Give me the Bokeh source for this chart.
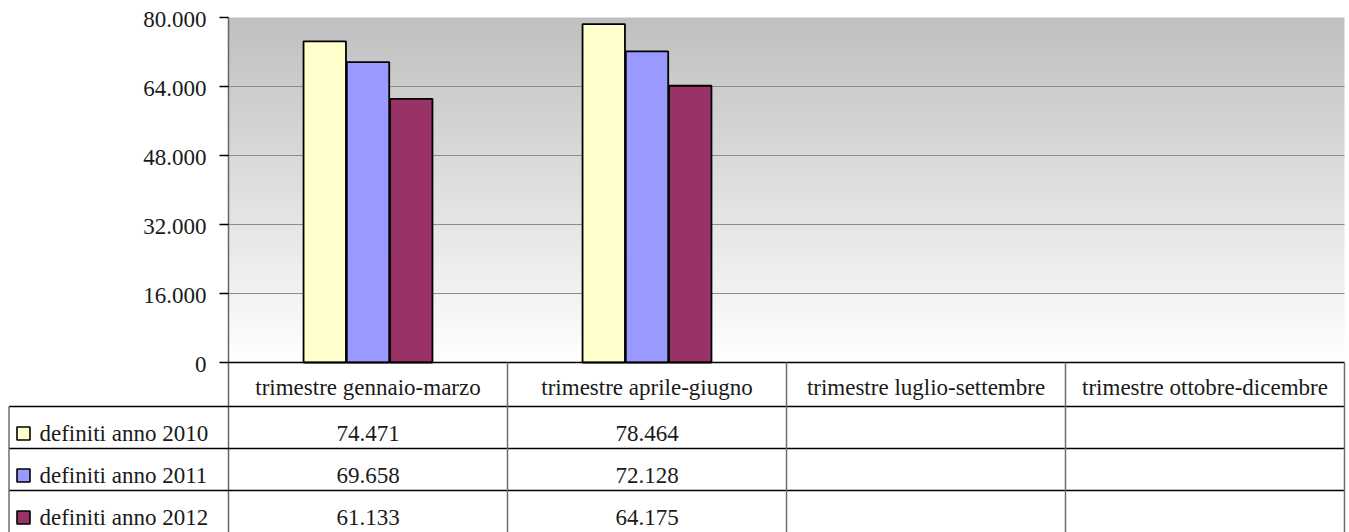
import numpy as np
from bokeh.plotting import figure
from bokeh.models import Range1d
from bokeh.core.properties import value
from bokeh.embed import file_html
from bokeh.resources import INLINE

# ---------------- data ----------------
CATEGORIES = ["trimestre gennaio-marzo", "trimestre aprile-giugno",
              "trimestre luglio-settembre", "trimestre ottobre-dicembre"]
SERIES = ["definiti anno 2010", "definiti anno 2011", "definiti anno 2012"]
VALUES_2010 = [74471, 78464, None, None]
VALUES_2011 = [69658, 72128, None, None]
VALUES_2012 = [61133, 64175, None, None]
COLORS = ["#FFFFCC", "#9999FF", "#993366"]
Y_TICKS = [0, 16000, 32000, 48000, 64000, 80000]

ALL_VALUES = [VALUES_2010, VALUES_2011, VALUES_2012]

# ---------------- layout (pixels) ----------------
W, H = 1349, 532
FRAME_L, FRAME_R = 228, 1344       # plot area left / right
Y0_PX, YMAX_PX = 362, 17           # pixel rows of value 0 and of the max tick
NCAT = len(CATEGORIES)
PXU = (FRAME_R - FRAME_L) / NCAT
Y_MAX = Y_TICKS[-1]
YU = Y_MAX / (Y0_PX - YMAX_PX)


def X(px):
    return -0.5 + (px - FRAME_L) / PXU


def Y(py):
    return (Y0_PX - py) * YU


ROW_EDGES_PX = [362, 406, 448, 490, 532]   # header + 3 series rows

FONT = value("Liberation Serif")
FSIZE = value("23px")
TXT = "#1a1a1a"


def fmt(v):
    return "" if v is None else f"{v:,}".replace(",", ".")


p = figure(width=W, height=H, x_range=Range1d(X(0), X(W)), y_range=Range1d(Y(H), Y(0)),
           output_backend="svg", toolbar_location=None,
           x_axis_location=None, y_axis_location=None,
           min_border_left=0, min_border_right=0, min_border_top=0, min_border_bottom=0)
p.outline_line_color = None
p.grid.visible = False
p.background_fill_color = "white"
p.border_fill_color = "white"

x_left, x_right = -0.5, NCAT - 0.5

# gradient background of the plot area
N = 256
g = np.linspace(255, 192, N).astype(np.uint8)
img = np.empty((N, 1), dtype=np.uint32)
view = img.view(dtype=np.uint8).reshape((N, 1, 4))
view[:, 0, 0] = g
view[:, 0, 1] = g
view[:, 0, 2] = g
view[:, 0, 3] = 255
p.image_rgba(image=[img], x=x_left, y=0, dw=x_right - x_left, dh=Y_MAX)

# grid lines
gt = Y_TICKS[1:-1]
p.segment(x0=[x_left] * len(gt), y0=gt, x1=[x_right] * len(gt), y1=gt,
          line_color="#8c8c8c", line_width=1.2)

# bars
offsets = [-0.155, 0.0, 0.155]
for vals, col, off in zip(ALL_VALUES, COLORS, offsets):
    xs = [i + off for i, v in enumerate(vals) if v is not None]
    tops = [v for v in vals if v is not None]
    p.vbar(x=xs, top=tops, bottom=0, width=0.152, fill_color=col,
           line_color="black", line_width=1.8)

# y axis (line, ticks, labels)
p.segment(x0=[x_left], y0=[Y_MAX], x1=[x_left], y1=[Y(H)],
          line_color="#666666", line_width=1.5)
p.segment(x0=[X(219)] * len(Y_TICKS), y0=Y_TICKS, x1=[x_left] * len(Y_TICKS), y1=Y_TICKS,
          line_color="black", line_width=1.3)
p.text(x=[X(206)] * len(Y_TICKS), y=Y_TICKS, text=[fmt(t) for t in Y_TICKS],
       text_font=FONT, text_font_size=FSIZE, text_color=TXT,
       text_align="right", text_baseline="middle", y_offset=2)

# baseline
p.segment(x0=[x_left], y0=[0], x1=[x_right], y1=[0], line_color="black", line_width=1.6)

# ---------------- data table ----------------
left_border = X(8.5)
rows = [Y(py) for py in ROW_EDGES_PX]
hy = rows[1:-1]
p.segment(x0=[left_border] * len(hy), y0=hy, x1=[x_right] * len(hy), y1=hy,
          line_color="black", line_width=1.4)
vx = [k + 0.5 for k in range(NCAT)]
p.segment(x0=vx, y0=[rows[0]] * len(vx), x1=vx, y1=[rows[-1]] * len(vx),
          line_color="#6e6e6e", line_width=1.5)
p.segment(x0=[left_border], y0=[rows[1]], x1=[left_border], y1=[rows[-1]],
          line_color="#6e6e6e", line_width=1.5)

# header texts
hdr_mid = Y(387)
p.text(x=list(range(NCAT)), y=[hdr_mid] * NCAT, text=CATEGORIES,
       text_font=FONT, text_font_size=FSIZE, text_color=TXT,
       text_align="center", text_baseline="middle")

# value cells, legend keys and series names
for r, (vals, name, col) in enumerate(zip(ALL_VALUES, SERIES, COLORS)):
    top_px, bot_px = ROW_EDGES_PX[r + 1], ROW_EDGES_PX[r + 2]
    mid_px = (top_px + bot_px) / 2
    tmid = Y(mid_px + 6)
    p.text(x=list(range(NCAT)), y=[tmid] * NCAT, text=[fmt(v) for v in vals],
           text_font=FONT, text_font_size=FSIZE, text_color=TXT,
           text_align="center", text_baseline="middle")
    p.rect(x=[X(23)], y=[Y(mid_px + 6)], width=13, height=13,
           width_units="screen", height_units="screen",
           fill_color=col, line_color="black", line_width=1.6)
    p.text(x=[X(39)], y=[tmid], text=[name],
           text_font=FONT, text_font_size=FSIZE, text_color=TXT,
           text_align="left", text_baseline="middle")

open("out.html", "w").write(file_html(p, INLINE))
